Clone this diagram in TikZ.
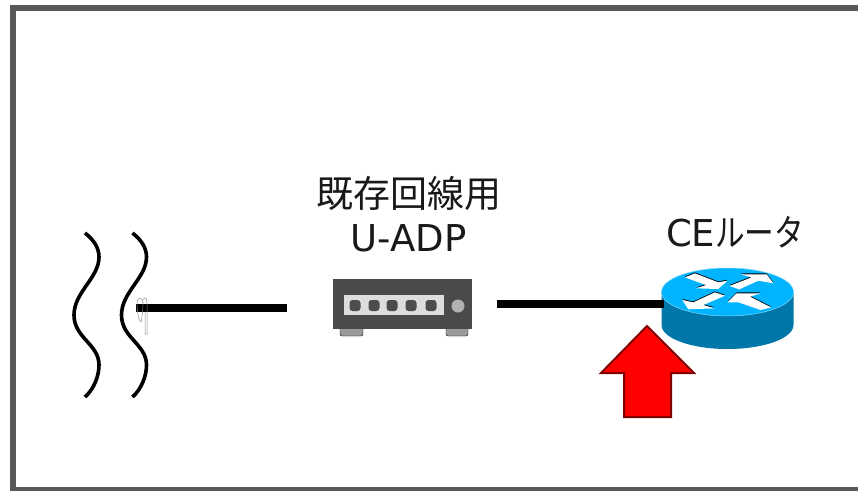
\documentclass[tikz,border=0pt]{standalone}
\usepackage{fontspec}
\setmainfont{Noto Sans CJK JP}
\newfontfamily\LatinFont{DejaVu Sans}
\newfontfamily\KanaFont[FakeStretch=0.8]{Noto Sans CJK JP}
\usepackage{tikz}
\usetikzlibrary{calc,positioning}

\definecolor{FrameGray}{HTML}{595959}
\definecolor{RouterTop}{HTML}{00B4FF}
\definecolor{RouterSide}{HTML}{0077A8}
\definecolor{AdpBody}{HTML}{4A4A4A}
\definecolor{AdpFoot}{HTML}{9A9A9A}
\definecolor{AdpPanel}{HTML}{DDDDDD}

\begin{document}
\begin{tikzpicture}
  [x=1pt, y=-1pt,
   frame/.style={draw=FrameGray, line width=6pt},
   wave/.style={line width=3.6pt},
   cable/.style={line width=8pt},
   clip loop/.style={draw=black!45, line width=0.5pt},
   label text/.style={align=center, inner sep=0pt, text=black!90,
     font=\fontsize{37}{44}\selectfont},
   adp/.style={fill=AdpBody, inner sep=0pt, minimum width=139pt, minimum height=50pt},
   port/.style={fill=black!70, rounded corners=3pt, inner sep=0pt, minimum size=11pt},
   foot/.style={fill=AdpFoot, rounded corners=2pt},
   router arrow/.style={fill=white, preaction={fill=black, transform canvas={yshift=0.9pt}}},
   big arrow/.style={fill=red, draw=red!50!black, line width=2pt, miter limit=10}]

  \useasboundingbox (0,0) rectangle (858,490);
  \draw [frame] (12.5,8) rectangle (870,490);

  % cut line marks
  \foreach \Offset in {0,47.5}
    \draw [wave, shift={(\Offset,0)}]
      (85,233) .. controls (94,240) and (99,248) .. (99,257)
      .. controls (99,278) and (74,292) .. (74,315)
      .. controls (74,338) and (99,344) .. (99,365)
      .. controls (99,376) and (94,389) .. (85,397);

  % endpoints of the cables
  \coordinate (line-end) at (136,308);
  \coordinate (adp-in) at (287,308);
  \coordinate (adp-out) at (497,304);
  \coordinate (ce-in) at (664,304);

  % U-ADP
  \draw [foot] (340,325) rectangle (363,336);
  \draw [foot] (446,325) rectangle (468,336);
  \node [adp] (adp-box) at (402.5,304) {};
  \node [fill=AdpPanel, inner sep=0pt, minimum width=100pt, minimum height=20pt]
    (adp-panel) at (394,305) {};
  \foreach \Name/\PortX in {a/355,b/374,c/392,d/411,e/431}
    \node [port] (port-\Name) at (\PortX,305.5) {};
  \node [circle, fill=black!30, inner sep=0pt, minimum size=13pt] (adp-lamp) at (458,306) {};

  % CE router
  \fill [RouterSide] (661.5,292) -- (661.5,325)
    arc [start angle=180, end angle=360, x radius=66pt, y radius=24pt] -- (793.5,292) -- cycle;
  \draw [fill=RouterTop, draw=RouterTop!50!white, line width=0.5pt] (727.5,292)
    circle [x radius=66pt, y radius=24pt];
  \begin{scope}[shift={(590,250)}, x=0.3333pt, y=-0.3333pt]
    \path [router arrow] (285,82) -- (315,70) -- (385,97) -- (412,92) -- (385,117)
      -- (318,115) -- (348,105) -- cycle;
    \path [router arrow] (418,108) -- (485,82) -- (452,73) -- (530,73) -- (550,100)
      -- (505,92) -- (448,118) -- cycle;
    \path [router arrow] (375,127) -- (405,137) -- (340,165) -- (375,175) -- (295,178)
      -- (277,150) -- (310,157) -- cycle;
    \path [router arrow] (543,172) -- (512,180) -- (445,157) -- (413,157) -- (440,130)
      -- (512,130) -- (480,140) -- cycle;
  \end{scope}

  \draw [cable] (line-end) -- (adp-in);
  \draw [cable] (adp-out) -- (ce-in);

  % thin loops over the cable end
  \draw [clip loop] (137,303) .. controls (137,296) and (143,297) .. (143,303)
    .. controls (143,312) and (142,318) .. (141,322)
    .. controls (139,322) and (137,312) .. (137,303);
  \draw [clip loop] (143,300) .. controls (146,295) and (147,299) .. (147,305)
    -- (147,334) -- (145,334) -- (145,312);

  % arrow to the router
  \draw [big arrow] (647,326) -- (694,373) -- (671,373) -- (671,417) -- (624,417)
    -- (624,373) -- (601,373) -- cycle;

  \node [label text] (adp-label) at (408.5,214) {既存回線用\\{\LatinFont U-ADP}};
  \node [label text] (ce-label) at (735,232) {{\LatinFont CE}{\KanaFont ルータ}};
\end{tikzpicture}
\end{document}
